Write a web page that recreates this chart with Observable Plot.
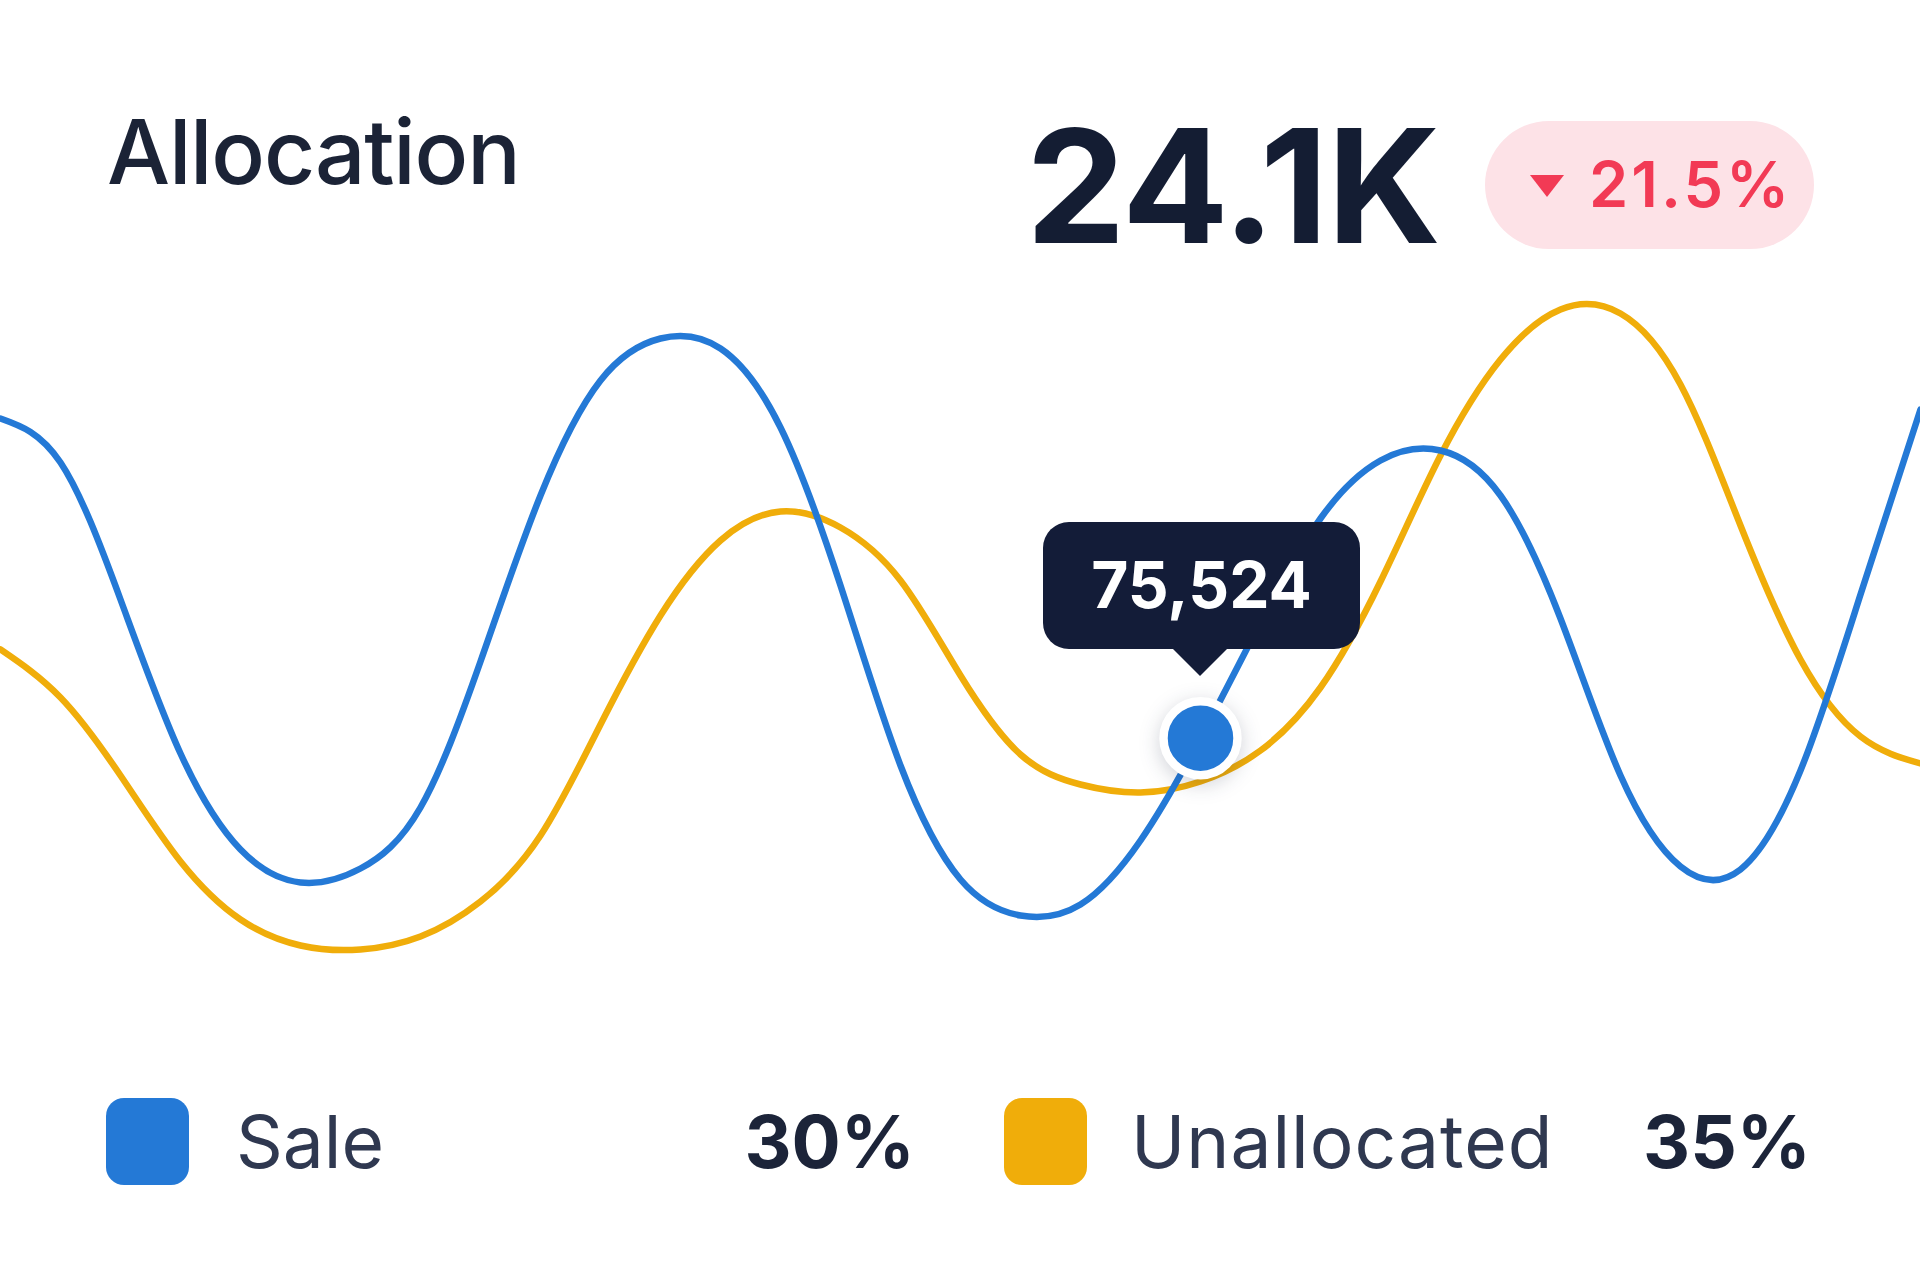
<!DOCTYPE html>
<html>
<head>
<meta charset="utf-8">
<script src="https://cdn.jsdelivr.net/npm/d3@7"></script>
<script src="https://cdn.jsdelivr.net/npm/@observablehq/plot@0.6"></script>
<style>
  html, body { margin: 0; padding: 0; background: #ffffff; }
  body { width: 1920px; height: 1280px; position: relative; overflow: hidden; font-family: Inter, "Noto Sans", sans-serif; }
  #chart { position: absolute; left: 0; top: 0; }
  .abs { position: absolute; line-height: 1; white-space: nowrap; }
  #title { left: 107px; top: 107px; font-size: 89px; font-weight: 500; color: #1b2336; letter-spacing: -1.2px; }
  #headline { left: 1026px; top: 107px; font-size: 158px; font-weight: 700; color: #141d33; letter-spacing: -1px; }
  #badge { position: absolute; left: 1485px; top: 121px; width: 329px; height: 128px; border-radius: 64px; background: #fde2e7; }
  #badge .tri { position: absolute; left: 45px; top: 54px; width: 0; height: 0; border-left: 17.5px solid transparent; border-right: 17.5px solid transparent; border-top: 22px solid #f23a55; }
  #badge .txt { position: absolute; left: 104px; top: 32px; font-size: 63px; font-weight: 600; color: #f23a55; line-height: 1; letter-spacing: 3px; }
  .swatch { position: absolute; top: 1098px; width: 83px; height: 87px; border-radius: 18px; }
  .lab { top: 1105px; font-size: 73px; font-weight: 400; color: #2f3850; }
  .pct { top: 1105px; font-size: 73px; font-weight: 700; color: #1c2439; text-align: right; }
  #tip { position: absolute; width: 317px; height: 127px; border-radius: 26px; background: #131c38; color: #fff; display: flex; align-items: center; justify-content: center; font-size: 64px; font-weight: 700; line-height: 1; }
  #tipArrow { position: absolute; width: 0; height: 0; border-left: 28px solid transparent; border-right: 28px solid transparent; border-top: 28px solid #131c38; }
</style>
</head>
<body>
<div id="chart"></div>
<div class="abs" id="title"></div>
<div class="abs" id="headline"></div>
<div id="badge"><div class="tri"></div><div class="txt"></div></div>
<div id="legend"></div>
<div id="tip"></div>
<div id="tipArrow"></div>
<script>
// ---- data ----
const periods = [0,1,2,3,4,5,6,7,8,9,10,11,12,13,14,15,16,17,18,19,20,21,22,23,24,25,26,27,28,29,30,31,32];
const saleValues = [155450,144450,110200,71700,47700,39450,42950,58200,94700,136200,164950,175450,172950,153200,113700,68700,40200,31200,33950,49950,75524,104450,130450,144950,147450,136200,105450,66200,43450,42700,67450,111450,157700];
const unallocatedValues = [97700,85700,66200,44700,30200,23700,22700,25950,34700,51200,78950,106200,124950,132200,128200,114950,91200,71450,63950,61950,64700,72450,88200,114700,146200,170200,182700,181700,163950,128700,95200,75950,69200];
const seriesNames = ["Sale", "Unallocated"];
const seriesColors = ["#2479d6", "#f0ad0a"];
const sharePct = ["30%", "35%"];
const chartTitle = "Allocation";
const headlineValue = "24.1K";
const changeLabel = "21.5%";
const hoverIndex = 20;

// ---- build rows ----
const saleRows = periods.map((p, i) => ({period: p, value: saleValues[i], series: seriesNames[0]}));
const unallocRows = periods.map((p, i) => ({period: p, value: unallocatedValues[i], series: seriesNames[1]}));
const hovered = [saleRows[hoverIndex]];

const chart = Plot.plot({
  width: 1920,
  height: 1280,
  marginTop: 239.8,
  marginBottom: 240.2,
  marginLeft: 0,
  marginRight: 0,
  x: {domain: [0, 32], axis: null},
  y: {domain: [0, 200000], axis: null},
  color: {domain: seriesNames, range: seriesColors},
  marks: [
    Plot.line(unallocRows, {x: "period", y: "value", stroke: "series", strokeWidth: 6.5, curve: "natural"}),
    Plot.line(saleRows, {x: "period", y: "value", stroke: "series", strokeWidth: 6.5, curve: "natural"}),
    Plot.dot(hovered, {x: "period", y: "value", r: 37, fill: "series", stroke: "white", strokeWidth: 8.5})
  ]
});
chart.querySelectorAll("circle").forEach(c => c.style.filter = "drop-shadow(0px 5px 10px rgba(20,30,60,0.2))");
document.getElementById("chart").appendChild(chart);

// ---- header ----
document.getElementById("title").textContent = chartTitle;
document.getElementById("headline").textContent = headlineValue;
document.querySelector("#badge .txt").textContent = changeLabel;

// ---- tooltip anchored to hovered point via Plot scales ----
const px = chart.scale("x").apply(hovered[0].period);
const py = chart.scale("y").apply(hovered[0].value);
const tip = document.getElementById("tip");
tip.textContent = d3.format(",")(hovered[0].value);
tip.style.left = (px - 157) + "px";
tip.style.top = (py - 216) + "px";
const arrow = document.getElementById("tipArrow");
arrow.style.left = (px - 28) + "px";
arrow.style.top = (py - 90) + "px";

// ---- legend ----
const legend = document.getElementById("legend");
const swatchLeft = [106, 1004];
const labelLeft = [236, 1131];
const labelSpacing = [0, 1];
const pctRight = [915, 1811];
seriesNames.forEach((name, i) => {
  const sw = document.createElement("div");
  sw.className = "swatch";
  sw.style.left = swatchLeft[i] + "px";
  sw.style.background = seriesColors[i];
  legend.appendChild(sw);
  const lb = document.createElement("div");
  lb.className = "abs lab";
  lb.style.left = labelLeft[i] + "px";
  lb.style.letterSpacing = labelSpacing[i] + "px";
  lb.textContent = name;
  legend.appendChild(lb);
  const pc = document.createElement("div");
  pc.className = "abs pct";
  pc.style.right = (1920 - pctRight[i]) + "px";
  pc.textContent = sharePct[i];
  legend.appendChild(pc);
});
</script>
</body>
</html>
